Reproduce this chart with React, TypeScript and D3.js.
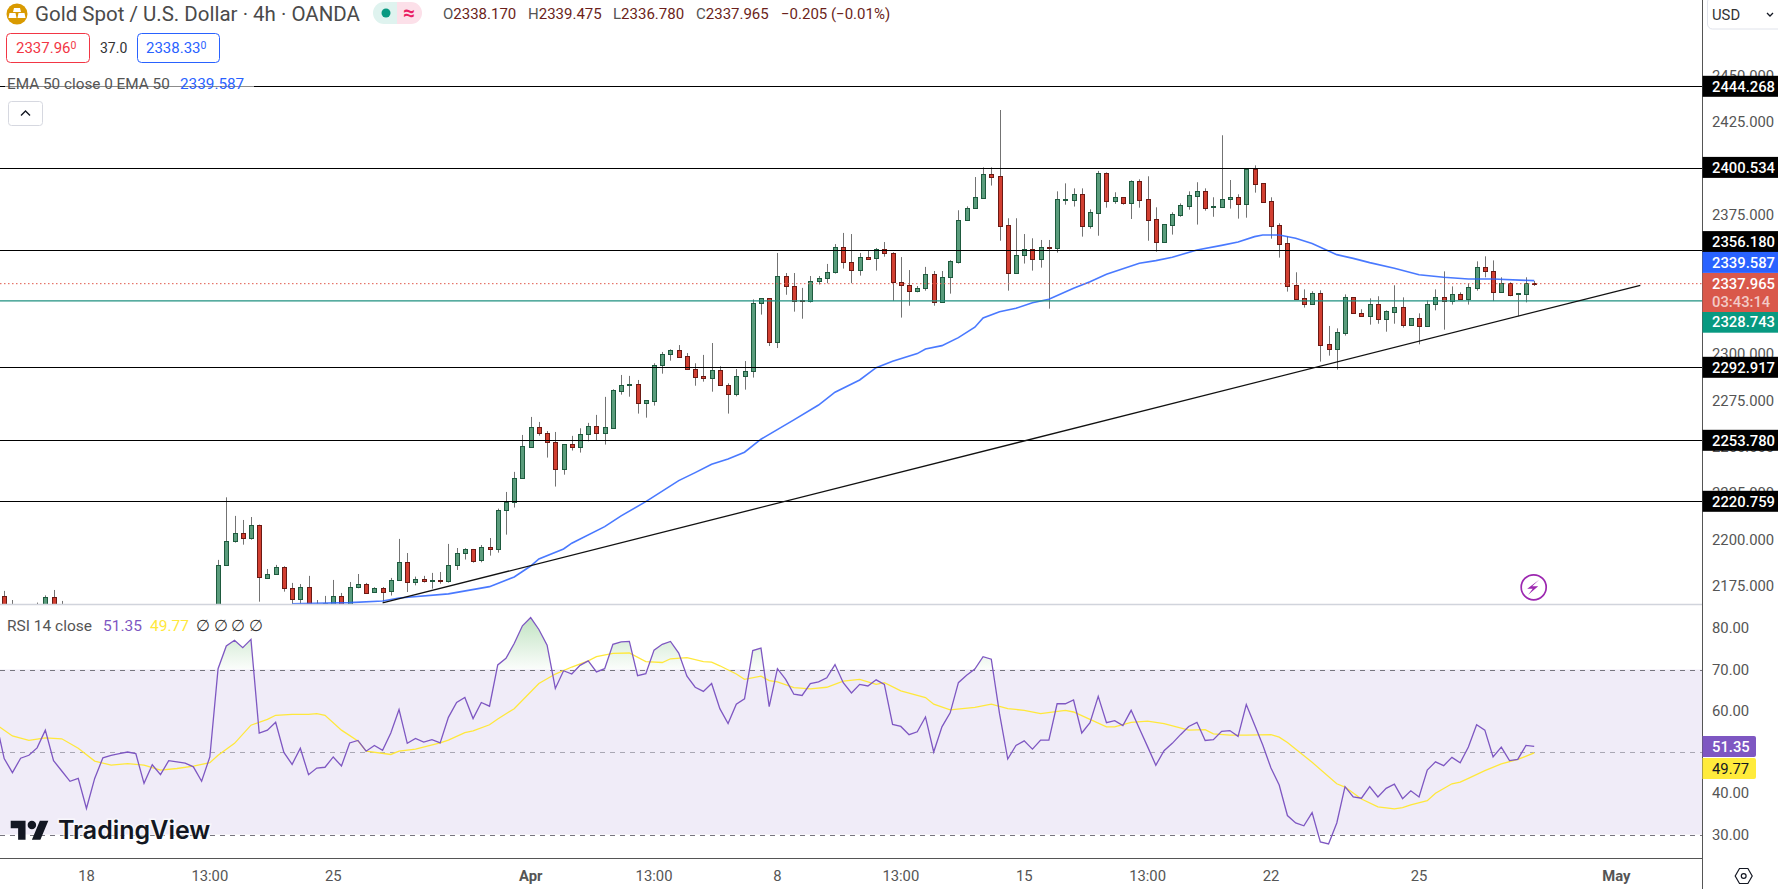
import * as d3 from "d3";

const WIDTH = 1778;
const HEIGHT = 889;
const AXIS_X = 1702.5;
const PRICE_BOTTOM = 604.5;
const TIME_TOP = 858.5;
const FONT = "Roboto, sans-serif";

// 4h bars, first entry is the bar just left of the frame (bar -1).
// Bars below 2165 are hidden by the pane edge, those are rough guesses.
const FIRST_BAR = -1;
const opens = [
  2160, 2169.6, 2160, 2158, 2156, 2159, 2160, 2169.1, 2161, 2160,
  2156, 2158, 2148, 2156, 2160, 2161, 2162, 2163, 2160, 2154,
  2158, 2155, 2160, 2159, 2158, 2156, 2150, 2162, 2186.3, 2199.2,
  2203.5, 2201.2, 2207.8, 2179.7, 2181.5, 2185.2, 2173.9, 2168, 2174.5, 2160,
  2165.3, 2164, 2169.6, 2163, 2174.5, 2176.1, 2171.8, 2173.9, 2172.3, 2178.2,
  2187.9, 2177.1, 2178.8, 2177.7, 2178.2, 2177.7, 2186.3, 2192.8, 2194.9, 2189,
  2196, 2194.9, 2215.9, 2220.2, 2233.2, 2250.2, 2260.6, 2257.4, 2252.5, 2238,
  2251.5, 2250.2, 2256.8, 2261.2, 2257.4, 2260.4, 2280.4, 2283.5, 2283.8, 2273.5,
  2275, 2294, 2299.9, 2302.1, 2298.9, 2291.9, 2288.1, 2287, 2291.3, 2283.2,
  2278.4, 2288.1, 2290.8, 2327.4, 2330.1, 2306.4, 2341.9, 2336.5, 2329, 2328.5,
  2339.2, 2340.9, 2344.1, 2357.5, 2349.5, 2345.2, 2352.2, 2351.6, 2356.5, 2354.3,
  2338.7, 2337.1, 2333.9, 2335.5, 2343, 2327.9, 2341.4, 2349.8, 2372.1, 2378.5,
  2384.3, 2396.9, 2395.8, 2369.4, 2343.9, 2353.2, 2356.5, 2351.5, 2357.7, 2357,
  2383.2, 2383.2, 2386.1, 2369.2, 2376.2, 2397.4, 2382.7, 2384.5, 2381.6, 2393.1,
  2383.4, 2372.6, 2360.6, 2369.8, 2375.1, 2380, 2385.4, 2387.7, 2379.5, 2379.5,
  2383.4, 2384.5, 2381.1, 2399.5, 2392, 2382.3, 2369.4, 2359.7, 2337.1, 2330.1,
  2327.2, 2332.8, 2305.3, 2303, 2311.6, 2330.6, 2322, 2320.7, 2326.9, 2319.1,
  2322.9, 2325.2, 2315.9, 2319.3, 2315.4, 2326.9, 2330.6, 2328.6, 2332.2, 2329.9,
  2335.8, 2346.8, 2344.6, 2333.7, 2338.2, 2332.4, 2332.6, 2338.17,
];
const highs = [
  2163, 2172.5, 2167.6, 2164, 2163, 2166.2, 2170.1, 2173, 2167.1, 2164,
  2163, 2160, 2158, 2162, 2164, 2164, 2164, 2164, 2162, 2160,
  2160, 2162, 2162, 2161, 2160, 2158, 2163, 2189.2, 2222.9, 2212.9,
  2210.7, 2212.3, 2208.2, 2184.3, 2186.5, 2185.8, 2176.8, 2176.2, 2180.6, 2167.6,
  2169.8, 2178.4, 2171.4, 2177.3, 2181.6, 2176.8, 2174.5, 2174.6, 2179.5, 2200.5,
  2192.9, 2180.2, 2180.6, 2182.2, 2182.7, 2197.8, 2195.6, 2195.5, 2195.1, 2197.2,
  2201, 2216.8, 2225.8, 2236.6, 2256.5, 2266.2, 2263.5, 2258.6, 2258.1, 2251.5,
  2256, 2260.1, 2263, 2267.3, 2277, 2281.1, 2288.8, 2288.3, 2286.1, 2275.2,
  2295.1, 2301.2, 2302.6, 2304.9, 2300.6, 2295.1, 2299.6, 2306, 2293.5, 2284.3,
  2292, 2296.3, 2329.5, 2330.1, 2330.1, 2354.5, 2343.7, 2343.7, 2335.7, 2342.1,
  2342.1, 2348.6, 2359.3, 2365.3, 2364.7, 2354.5, 2355.9, 2357.2, 2360.4, 2354.9,
  2352.3, 2345.3, 2336.7, 2347, 2344.8, 2344.8, 2350.6, 2377.5, 2379.6, 2395.4,
  2400.6, 2400.6, 2431.5, 2373.2, 2373.2, 2364.7, 2362.4, 2361.5, 2361.5, 2387.7,
  2392, 2389.3, 2389.3, 2378, 2398.7, 2397.9, 2387.2, 2384.5, 2393.6, 2394.2,
  2395.8, 2379.1, 2369.9, 2376.4, 2381.2, 2387.7, 2392.6, 2389.3, 2384.5, 2417.9,
  2393.8, 2386.1, 2399.5, 2401.7, 2392, 2384.5, 2370.5, 2363.5, 2344.1, 2334.9,
  2333.9, 2334.4, 2315.2, 2313.9, 2332.2, 2330.6, 2324.2, 2330.1, 2331.2, 2323.6,
  2337.1, 2330.6, 2319.3, 2322, 2329, 2334.9, 2344.6, 2336.5, 2333.3, 2338.2,
  2350, 2352.7, 2350.5, 2341.4, 2338.7, 2332.8, 2341.4, 2339.475,
];
const lows = [
  2155, 2155, 2150, 2152, 2150, 2155, 2158, 2158, 2155, 2152,
  2150, 2146, 2146, 2154, 2156, 2158, 2158, 2158, 2152, 2152,
  2152, 2153, 2156, 2155, 2152, 2148, 2148, 2160, 2186.3, 2198.5,
  2197.4, 2200.1, 2166.7, 2178.9, 2181.5, 2172.1, 2164, 2164, 2158, 2155,
  2160, 2162, 2160, 2161, 2173.9, 2171, 2171.6, 2166.7, 2170, 2178.2,
  2171.9, 2175.5, 2177, 2173.7, 2176.4, 2177, 2183.8, 2189.4, 2187.7, 2187.9,
  2191.5, 2193.1, 2202.8, 2217.4, 2233.2, 2250.2, 2256.1, 2244.3, 2228.7, 2235.1,
  2248.1, 2247, 2253.1, 2253.6, 2251.3, 2259.9, 2278.2, 2277.1, 2268, 2265.8,
  2272.3, 2289.5, 2296.5, 2298.1, 2291.9, 2283, 2285.2, 2279.8, 2283.2, 2268,
  2277.3, 2280.9, 2287.4, 2321.3, 2304.4, 2303.3, 2332, 2322.9, 2319.1, 2327.8,
  2337.5, 2338.2, 2343.4, 2346.1, 2338.2, 2342.3, 2351.1, 2345, 2352.5, 2328.7,
  2319.7, 2326.1, 2333.3, 2334.2, 2326.1, 2327.9, 2332.6, 2348.8, 2372.1, 2378.5,
  2383.8, 2390.8, 2361.1, 2334.2, 2343.9, 2348.8, 2345, 2346.6, 2324.5, 2354.7,
  2380.5, 2379.5, 2363.3, 2367.6, 2363.8, 2378.9, 2381, 2380.5, 2372.8, 2378.9,
  2361.1, 2355.2, 2360.6, 2364.4, 2374, 2377.8, 2369.8, 2377.3, 2374, 2378.9,
  2378.4, 2373, 2373.5, 2387, 2381.6, 2362.2, 2352, 2333.7, 2329.4, 2325.1,
  2327.2, 2296, 2299.2, 2291.7, 2310, 2322, 2320.7, 2315.9, 2316.4, 2312.1,
  2316.4, 2314.3, 2315.9, 2305.3, 2314.8, 2323.6, 2313.2, 2326.7, 2329.5, 2326.7,
  2334.2, 2341.4, 2328.6, 2333.3, 2331.2, 2320.4, 2327.9, 2336.78,
];
const closes = [
  2158, 2160, 2158, 2156, 2159, 2162, 2169.1, 2161, 2160, 2156,
  2158, 2148, 2156, 2160, 2161, 2162, 2163, 2160, 2154, 2158,
  2155, 2160, 2159, 2158, 2156, 2150, 2161, 2186.3, 2199.2, 2203.5,
  2201.2, 2207.8, 2179.8, 2181.5, 2185.2, 2173.9, 2168, 2174.5, 2162, 2159,
  2165.8, 2169.6, 2163, 2174.5, 2176.1, 2171.6, 2173.9, 2172.1, 2178.2, 2187.9,
  2177.1, 2178.8, 2177.7, 2178.2, 2177.7, 2186.3, 2192.8, 2194.9, 2188.8, 2196,
  2194.9, 2215.9, 2220.2, 2233.2, 2250.4, 2260.6, 2257.4, 2252.5, 2238, 2251.5,
  2250.2, 2256.8, 2261.2, 2257.4, 2260.6, 2280.5, 2283.2, 2283.8, 2273.5, 2275.2,
  2294, 2299.9, 2302.1, 2298.7, 2291.9, 2287.9, 2287, 2291.3, 2283.2, 2278.4,
  2288.1, 2290.8, 2327.4, 2330.1, 2306.4, 2341.9, 2336.5, 2328.8, 2328.5, 2339.2,
  2340.9, 2344.1, 2357.5, 2349.5, 2345.2, 2352.2, 2351.5, 2356.5, 2354.3, 2338.7,
  2337.1, 2333.9, 2335.5, 2343, 2327.9, 2341.4, 2350, 2372.1, 2378.5, 2384.5,
  2396.9, 2395.6, 2369.2, 2343.9, 2353.2, 2356.5, 2351.5, 2357.5, 2357.4, 2383.4,
  2383.4, 2386.1, 2369.2, 2376.4, 2397.4, 2382.7, 2384.5, 2381.6, 2393.1, 2383.2,
  2372.4, 2360.6, 2369.9, 2375.3, 2380.2, 2385.6, 2387.7, 2378.9, 2379.8, 2383.4,
  2384.5, 2381.1, 2399.5, 2391.8, 2382.1, 2369.2, 2359.5, 2336.9, 2329.9, 2327.2,
  2332.8, 2305.1, 2303, 2311.8, 2330.6, 2322, 2320.7, 2326.9, 2319.1, 2323.1,
  2325.2, 2315.9, 2319.3, 2315.4, 2326.9, 2330.6, 2328.8, 2332.2, 2329.9, 2336,
  2346.8, 2344.6, 2333.7, 2338.2, 2332.1, 2332.7, 2338.2, 2337.965,
];

const emaBars = [
  35, 42, 46, 48, 54, 59, 62, 64, 65, 68, 69, 73, 75, 78, 82, 84, 86, 88, 90, 92,
  96, 99, 101, 104, 106, 108, 111, 112, 114, 116, 118, 119, 121, 123, 125, 127, 130, 132, 134, 138,
  140, 142, 145, 148, 150, 152, 153, 155, 157, 159, 162, 164, 166, 169, 172, 175, 178, 181, 186,
];
const emaValues = [
  2165.5, 2166.2, 2167.1, 2168.7, 2170.9, 2174.8, 2180, 2185.9, 2189.7, 2195.1, 2198.2, 2207.1, 2212.9, 2220.6, 2231.9, 2236.2, 2240.7, 2243.6, 2247.2, 2254.2,
  2264.6, 2272.6, 2279.5, 2286.1, 2292.7, 2296.2, 2300.3, 2302.8, 2304.6, 2308.9, 2314.5, 2319.5, 2322.9, 2324.7, 2327.7, 2329.6, 2335.5, 2339, 2343, 2349,
  2350.4, 2352.2, 2356.1, 2358.6, 2360.4, 2363.3, 2364.2, 2364.2, 2362.4, 2359.6, 2353.6, 2351.6, 2349.3, 2346.3, 2342.8, 2341.4, 2340.5, 2340.5, 2339.587,
];

const rsiValues = [
  57.5, 48.4, 45, 48.5, 49.2, 51, 55.3, 47.9, 45.4, 42.9,
  43.6, 36.3, 43.6, 48.6, 49.2, 49.6, 50, 49.6, 42.4, 46.9,
  44.5, 47.9, 47.6, 47.3, 46.4, 42.9, 48.8, 70.2, 75.7, 77.1,
  75.3, 77.3, 54.6, 55.3, 57.2, 49.9, 47, 50.9, 44.5, 46.1,
  46.3, 48.8, 46.6, 52.2, 52.8, 50.2, 51.6, 50.4, 54.6, 60.3,
  52.1, 53.3, 52.4, 53, 52.2, 58.4, 62, 63.2, 58.1, 62,
  61.1, 71.1, 72.7, 76.3, 80.6, 82.6, 79.7, 75.9, 65.4, 69.7,
  68.9, 71, 72.1, 69.4, 70.2, 76.1, 76.7, 76.8, 68.5, 69,
  74.7, 76.1, 76.8, 74, 68.4, 65.7, 64.7, 66.6, 60.5, 56.9,
  61.6, 62.9, 74.6, 75.2, 61, 70.2, 67.6, 64, 63.7, 66.6,
  67, 68, 71.2, 66.8, 64.3, 66.4, 66, 67.5, 66.4, 56.7,
  56.2, 54.2, 54.9, 58.5, 50, 56.1, 59.5, 66.8, 68.6, 70.1,
  73.1, 72.5, 59.3, 48.3, 51.6, 52.7, 50.7, 52.9, 52.9, 61.7,
  61.7, 62.6, 54.6, 57.1, 63.5, 57.1, 57.6, 56.4, 60.1, 55.7,
  51.3, 46.8, 50.3, 52.1, 54.2, 56.2, 57.2, 52.8, 53, 55,
  55.2, 53.8, 61.5, 56.6, 51.7, 46.1, 42, 34.6, 32.8, 32.1,
  35.3, 28.2, 27.7, 32.8, 41.6, 39.1, 38.8, 41.6, 39.1, 41.2,
  42.2, 38.7, 40.6, 39.1, 45.6, 47.6, 46.7, 48.7, 47.4, 51.2,
  56.6, 55.3, 48.8, 51.2, 47.9, 48.2, 51.6, 51.35,
];

const maBars = [
  -1, 1, 3, 5, 7, 9, 11, 13, 15, 17, 19, 21, 23, 25, 26, 28, 30, 32, 33, 35,
  37, 38, 39, 41, 43, 44, 47, 48, 50, 53, 54, 56, 57, 59, 60, 62, 65, 67, 69, 71,
  72, 74, 76, 78, 80, 81, 83, 85, 86, 87, 89, 90, 92, 93, 94, 96, 98, 100, 102, 104,
  106, 107, 109, 112, 113, 115, 118, 120, 122, 124, 126, 129, 130, 132, 134, 135, 137, 139, 141, 144,
  146, 147, 149, 151, 154, 155, 156, 159, 162, 163, 165, 167, 169, 170, 171, 173, 174, 176, 177, 178,
  180, 182, 184, 186,
];
const maValues = [
  56.7, 53.9, 52.8, 53.4, 53.2, 50.9, 47.8, 46.8, 47.2, 46.8, 45.6, 46, 46.6, 47.4, 49.2, 52.1, 56.5, 57.9, 58.9, 59.1,
  59.1, 59.3, 58.9, 55.3, 52.7, 50.2, 49.4, 50.2, 50.7, 52.2, 52.9, 54.7, 55.1, 56.6, 58, 60.5, 66.6, 68.9, 70.6, 72.1,
  73.1, 73.9, 74, 71.9, 71.7, 72.6, 72.9, 71.9, 71.8, 70.9, 68.9, 67.6, 68.4, 67.3, 67, 65.6, 65.3, 65.7, 67.2, 67.6,
  66.4, 66.8, 64.8, 63.2, 61.6, 60.2, 60.8, 61.6, 60.5, 60.1, 59.3, 60.1, 59.7, 57.9, 56.1, 56.1, 57.2, 57.5, 56.9, 55.3,
  55.4, 54.4, 54.1, 54.1, 54.2, 53.6, 52.3, 47.5, 42.3, 41.5, 38.6, 36.7, 36.2, 36.5, 37.2, 38.2, 40, 42.3, 42.7, 43.6,
  45.5, 47.1, 48.2, 49.77,
];

const blackLevels = [2444.268, 2400.534, 2356.18, 2292.917, 2253.78, 2220.759];
const lastPrice = 2337.965;
const bidLine = 2328.743;
const trendBars = [46, 198.9];
const trendPrices = [2166, 2337.1];

// 2400, 2350, 2325 and rsi 50 sit fully behind the tags in the reference
const priceTicks = [2450, 2425, 2375, 2300, 2275, 2250, 2225, 2200, 2175];
const rsiTicks = [80, 70, 60, 40, 30];
const timeBars = [10, 25, 40, 64, 79, 94, 109, 124, 139, 154, 172, 196];
const timeLabels = ["18", "13:00", "25", "Apr", "13:00", "8", "13:00", "15", "13:00", "22", "25", "May"];

const priceTags = [
  { text: "2444.268", center: 86.3, fill: "#000000" },
  { text: "2400.534", center: 167.4, fill: "#000000" },
  { text: "2356.180", center: 241.6, fill: "#000000" },
  { text: "2339.587", center: 262.4, fill: "#2962ff" },
  { text: "2328.743", center: 322.2, fill: "#089981" },
  { text: "2292.917", center: 367.3, fill: "#000000" },
  { text: "2253.780", center: 440.3, fill: "#000000" },
  { text: "2220.759", center: 501.3, fill: "#000000" },
];

const x = d3.scaleLinear().domain([0, 186]).range([4.2, 1534.2]);
const y = d3.scaleLinear().domain([2444.268, 2220.759]).range([86.3, 501.3]);
const rsiY = d3.scaleLinear().domain([70, 30]).range([669.5, 834.5]);

const emaPath = d3.line<number>()
  .x((_, i) => x(emaBars[i]))
  .y((d) => y(d))(emaValues);
const trendPath = d3.line<number>()
  .x((_, i) => x(trendBars[i]))
  .y((d) => y(d))(trendPrices);
const rsiPath = d3.line<number>()
  .x((_, i) => x(i + FIRST_BAR))
  .y((d) => rsiY(d))(rsiValues);
const rsiArea = d3.area<number>()
  .x((_, i) => x(i + FIRST_BAR))
  .y0(rsiY(70))
  .y1((d) => rsiY(d))(rsiValues);
const maPath = d3.line<number>()
  .x((_, i) => x(maBars[i]))
  .y((d) => rsiY(d))(maValues);

const Tag = ({ text, center, fill }: { text: string; center: number; fill: string }) => (
  <g>
    <rect x={AXIS_X} y={center - 10.5} width={WIDTH - AXIS_X} height={21} fill={fill} />
    <text x={1712} y={center + 5.2} fill="#fff" fontSize={14.8} fontWeight={500}>{text}</text>
  </g>
);

const Candles = () => (
  <g clipPath="url(#priceClip)">
    {opens.map((open, i) => {
      const close = closes[i];
      const up = close >= open;
      const cx = Math.round(x(i + FIRST_BAR));
      const top = Math.round(y(Math.max(open, close)));
      const bottom = Math.round(y(Math.min(open, close)));
      return (
        <g key={i}>
          <line x1={cx + 0.5} x2={cx + 0.5} y1={y(highs[i])} y2={y(lows[i])} stroke="#737373" />
          <rect
            x={cx - 1.5}
            y={top + 0.5}
            width={4}
            height={Math.max(bottom - top, 1)}
            fill={up ? "#5a9c7c" : "#d23f31"}
            stroke={up ? "#1e5a3e" : "#6b1a14"}
          />
        </g>
      );
    })}
  </g>
);

export default function App() {
  return (
    <svg
      width={WIDTH}
      height={HEIGHT}
      style={{ position: "fixed", left: 0, top: 0, background: "#fff" }}
      fontFamily={FONT}
    >
      <defs>
        <clipPath id="priceClip"><rect x={0} y={0} width={AXIS_X} height={PRICE_BOTTOM} /></clipPath>
        <clipPath id="overClip"><rect x={0} y={PRICE_BOTTOM} width={AXIS_X} height={rsiY(70) - PRICE_BOTTOM} /></clipPath>
        <linearGradient id="overFill" gradientUnits="userSpaceOnUse" x1={0} x2={0} y1={rsiY(83)} y2={rsiY(70)}>
          <stop offset="0" stopColor="#4caf50" stopOpacity={0.36} />
          <stop offset="1" stopColor="#4caf50" stopOpacity={0.02} />
        </linearGradient>
      </defs>

      <Candles />

      {/* price lines and drawings */}
      <g clipPath="url(#priceClip)">
        <path d={emaPath ?? ""} fill="none" stroke="#2962ff" strokeWidth={1.6} opacity={0.85} />
        <line x1={0} x2={AXIS_X} y1={y(lastPrice)} y2={y(lastPrice)} stroke="#e0584a" strokeDasharray="1.5 2.5" />
        <line x1={0} x2={AXIS_X} y1={y(bidLine)} y2={y(bidLine)} stroke="#1f9080" strokeWidth={1.2} />
        {blackLevels.map((level) => (
          <line key={level} x1={0} x2={AXIS_X} y1={Math.round(y(level)) + 0.5} y2={Math.round(y(level)) + 0.5} stroke="#000" strokeWidth={1.2} />
        ))}
        <path d={trendPath ?? ""} fill="none" stroke="#111" strokeWidth={1.3} />
      </g>

      {/* lightning badge */}
      <g transform="translate(1533.7 587.3)" fill="none" stroke="#9c27b0">
        <circle r={12.5} strokeWidth={1.7} />
        <path d="M5.5 -7.5 L-1.5 -1 L4.5 -1 L-5.5 7.5 L-1 1.5 L-6.5 1.5 Z" fill="#9c27b0" stroke="none" />
      </g>

      {/* header */}
      <circle cx={17} cy={14} r={10.5} fill="#d99a00" />
      <path d="M14 8h6l1 4h-8zM9.5 13h6l1 5h-8zM18.5 13h6l1 5h-8z" fill="#fff" />
      <text x={35} y={21} fontSize={20.5} fill="#4a4a4a">Gold Spot / U.S. Dollar · 4h · OANDA</text>
      <path d="M384 2 h13 v22 h-13 a11 11 0 0 1 0 -22z" fill="#dff3ef" />
      <path d="M397 2 h14 a11 11 0 0 1 0 22 h-14z" fill="#fce0e9" />
      <circle cx={386} cy={13} r={4.5} fill="#089981" />
      <text x={409} y={20} fontSize={21} fontWeight={700} textAnchor="middle" fill="#e91e63">≈</text>
      <text y={19} fontSize={15} fill="#6b1f1b">
        <tspan x={443} fill="#555">O</tspan><tspan>2338.170</tspan>
        <tspan x={528} fill="#555">H</tspan><tspan>2339.475</tspan>
        <tspan x={613} fill="#555">L</tspan><tspan>2336.780</tspan>
        <tspan x={696} fill="#555">C</tspan><tspan>2337.965</tspan>
        <tspan x={781}>−0.205 (−0.01%)</tspan>
      </text>

      <rect x={6.5} y={33.5} width={83} height={29} rx={4} fill="#fff" stroke="#f23645" />
      <text x={16} y={53} fontSize={15} fill="#f23645">2337.96<tspan fontSize={10.5} dy={-4}>0</tspan></text>
      <text x={100} y={53} fontSize={14} fill="#333">37.0</text>
      <rect x={137.5} y={33.5} width={82} height={29} rx={4} fill="#fff" stroke="#2962ff" />
      <text x={146} y={53} fontSize={15} fill="#2962ff">2338.33<tspan fontSize={10.5} dy={-4}>0</tspan></text>

      <rect x={5} y={74} width={249} height={21} fill="#fff" opacity={0.55} />
      <text x={7} y={89} fontSize={15.3} fill="#555">EMA 50 close 0 EMA 50</text>
      <text x={180} y={89} fontSize={15.3} fill="#2962ff">2339.587</text>

      <rect x={8.5} y={101.5} width={34} height={24} rx={3} fill="#fff" stroke="#d6d8e0" />
      <path d="M21 115.5 l4.5 -4.5 l4.5 4.5" fill="none" stroke="#131722" strokeWidth={1.4} />

      {/* rsi pane */}
      <rect x={0} y={rsiY(70)} width={AXIS_X} height={rsiY(30) - rsiY(70)} fill="#f0ecf8" />
      <path d={rsiArea ?? ""} fill="url(#overFill)" clipPath="url(#overClip)" />
      {[70, 50, 30].map((level) => (
        <line
          key={level}
          x1={0}
          x2={AXIS_X}
          y1={Math.round(rsiY(level)) + 0.5}
          y2={Math.round(rsiY(level)) + 0.5}
          stroke={level === 50 ? "#a9a7b4" : "#77757f"}
          strokeDasharray="5 5"
        />
      ))}
      <path d={maPath ?? ""} fill="none" stroke="#ffe83b" strokeWidth={1.3} />
      <path d={rsiPath ?? ""} fill="none" stroke="#7e57c2" strokeWidth={1.3} />

      <text x={7} y={631} fontSize={15.5} fill="#555">RSI 14 close</text>
      <text x={103} y={631} fontSize={15.5} fill="#7e57c2">51.35</text>
      <text x={150} y={631} fontSize={15.5} fill="#ffe83b">49.77</text>
      {[203, 221, 238, 256].map((tx) => (
        <text key={tx} x={tx} y={631} fontSize={15.5} fill="#333" textAnchor="middle">∅</text>
      ))}

      {/* watermark */}
      <g transform="translate(10.7 816.5) scale(1.06)" fill="#131722">
        <path d="M14 22H7V11H0V4h14v18zM28 22h-8l7.5-18h8L28 22z" />
        <circle cx={20} cy={8} r={4} />
      </g>
      <text
        x={58}
        y={839}
        fontFamily="Inter, sans-serif"
        fontSize={25}
        fontWeight={600}
        fill="#131722"
        stroke="#fff"
        strokeOpacity={0.6}
        strokeWidth={3}
        paintOrder="stroke"
      >TradingView</text>

      {/* separators */}
      <line x1={0} x2={AXIS_X} y1={PRICE_BOTTOM} y2={PRICE_BOTTOM} stroke="#d1d4dc" strokeWidth={1.5} />
      <line x1={0} x2={AXIS_X} y1={TIME_TOP} y2={TIME_TOP} stroke="#555" />
      <line x1={AXIS_X} x2={AXIS_X} y1={0} y2={HEIGHT} stroke="#555" />

      {/* time axis */}
      {timeBars.map((bar, i) => {
        const bold = timeLabels[i] === "Apr" || timeLabels[i] === "May";
        return (
          <text
            key={i}
            x={x(bar)}
            y={881}
            fontSize={14.8}
            textAnchor="middle"
            fill="#555"
            fontWeight={bold ? 700 : 400}
          >
            {timeLabels[i]}
          </text>
        );
      })}
      <g transform="translate(1743.7 876)" fill="none" stroke="#131722" strokeWidth={1.2}>
        <path d="M-8.5 0 L-4.2 -7.5 H4.2 L8.5 0 L4.2 7.5 H-4.2 Z" />
        <circle r={2.4} />
      </g>

      {/* price axis */}
      {priceTicks.map((tick) => (
        <text key={tick} x={1712} y={y(tick) + 5} fontSize={14.8} fill="#555">{d3.format(".3f")(tick)}</text>
      ))}
      {priceTags.map((tag) => <Tag key={tag.text} {...tag} />)}
      <rect x={AXIS_X} y={273} width={WIDTH - AXIS_X} height={39} fill="#d9584a" />
      <text x={1712} y={288.5} fontSize={14.8} fontWeight={500} fill="#fff">{d3.format(".3f")(lastPrice)}</text>
      <text x={1712} y={306.5} fontSize={14.8} fontWeight={500} fill="#fff" fillOpacity={0.7}>03:43:14</text>

      <rect x={1707.5} y={-3} width={80} height={32} rx={5} fill="#fff" stroke="#e0e3eb" />
      <text x={1712} y={20} fontSize={14.8} fill="#333">USD</text>
      <path d="M1767 13 l3 3 l3 -3" fill="none" stroke="#131722" strokeWidth={1.3} />

      {/* rsi axis */}
      {rsiTicks.map((tick) => (
        <text key={tick} x={1712} y={rsiY(tick) + 5} fontSize={14.8} fill="#555">{d3.format(".2f")(tick)}</text>
      ))}
      <path d={`M${AXIS_X} 736 H1754 a2 2 0 0 1 2 2 V755 a2 2 0 0 1 -2 2 H${AXIS_X} Z`} fill="#7e57c2" />
      <text x={1712} y={752} fontSize={14.8} fontWeight={500} fill="#fff">51.35</text>
      <path d={`M${AXIS_X} 758 H1754 a2 2 0 0 1 2 2 V777 a2 2 0 0 1 -2 2 H${AXIS_X} Z`} fill="#ffeb3b" />
      <text x={1712} y={774} fontSize={14.8} fill="#131722">49.77</text>
    </svg>
  );
}
